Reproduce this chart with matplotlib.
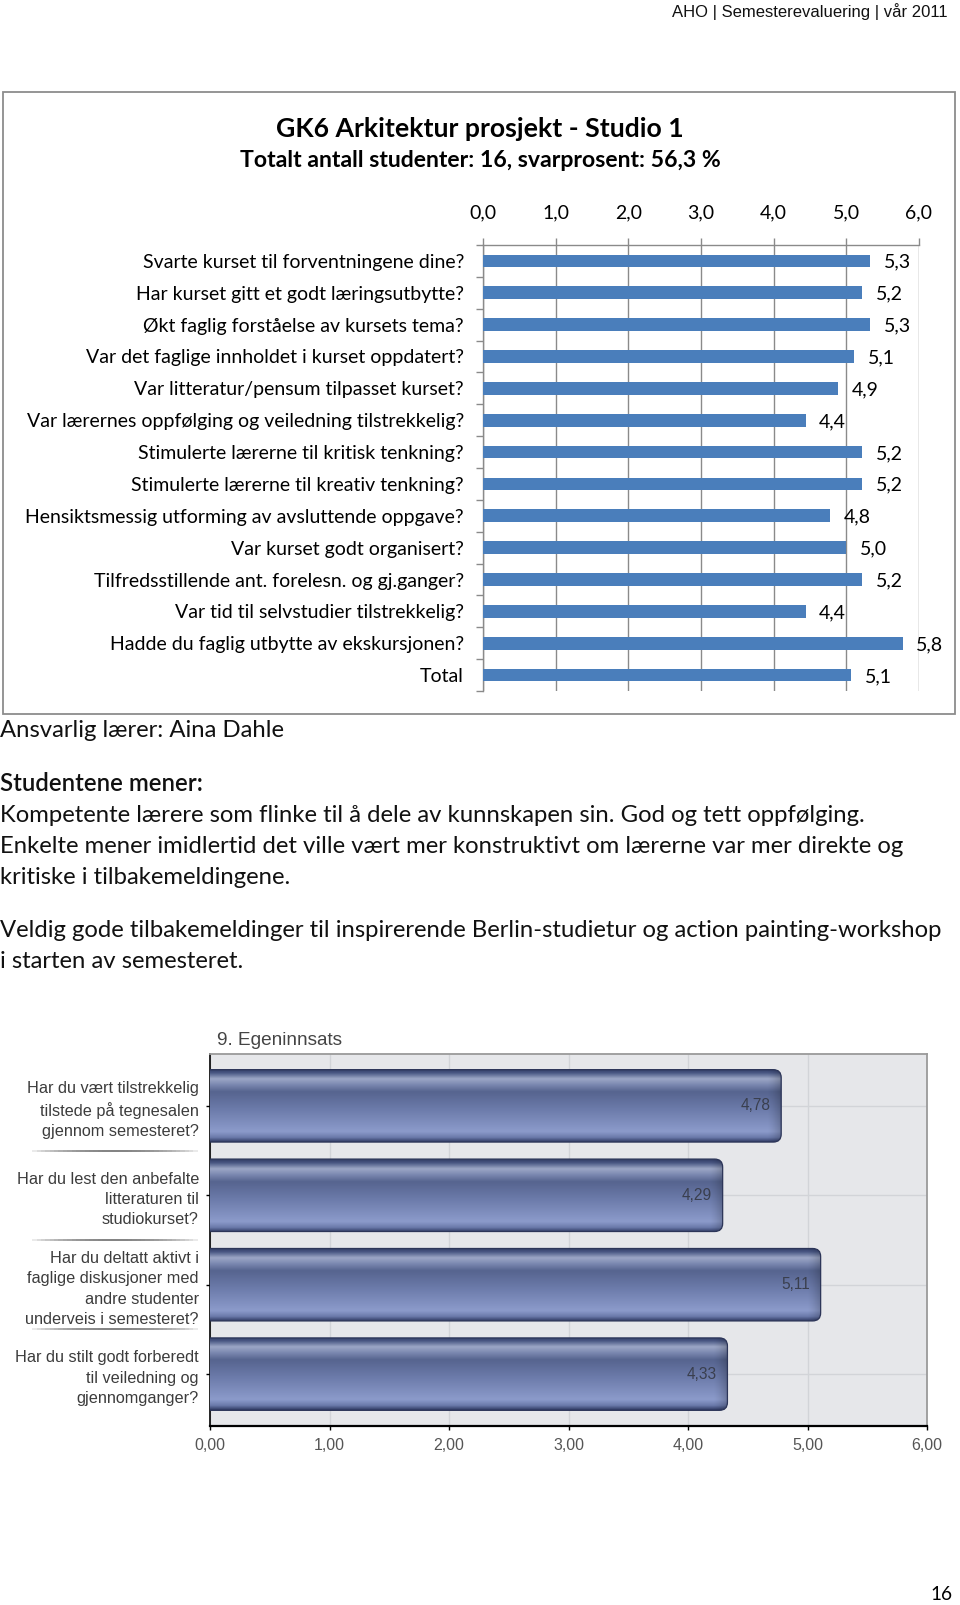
import matplotlib
matplotlib.use("Agg")
import matplotlib.pyplot as plt
import numpy as np
from matplotlib import font_manager, transforms
from matplotlib.patches import Rectangle, FancyBboxPatch
from matplotlib.colors import LinearSegmentedColormap
from matplotlib.collections import LineCollection

# ---------------- data ----------------
header_text = "AHO | Semesterevaluering | vår 2011"
chart_title = "GK6 Arkitektur prosjekt - Studio 1"
chart_subtitle = "Totalt antall studenter: 16, svarprosent: 56,3 %"

questions = [
    "Svarte kurset til forventningene dine?",
    "Har kurset gitt et godt læringsutbytte?",
    "Økt faglig forståelse av kursets tema?",
    "Var det faglige innholdet i kurset oppdatert?",
    "Var litteratur/pensum tilpasset kurset?",
    "Var lærernes oppfølging og veiledning tilstrekkelig?",
    "Stimulerte lærerne til kritisk tenkning?",
    "Stimulerte lærerne til kreativ tenkning?",
    "Hensiktsmessig utforming av avsluttende oppgave?",
    "Var kurset godt organisert?",
    "Tilfredsstillende ant. forelesn. og gj.ganger?",
    "Var tid til selvstudier tilstrekkelig?",
    "Hadde du faglig utbytte av ekskursjonen?",
    "Total",
]
scores = [5.33, 5.22, 5.33, 5.11, 4.89, 4.44, 5.22, 5.22, 4.78, 5.00, 5.22, 4.44, 5.78, 5.07]
score_ticks = [0, 1, 2, 3, 4, 5, 6]
score_tick_labels = ["0,0", "1,0", "2,0", "3,0", "4,0", "5,0", "6,0"]

teacher_line = "Ansvarlig lærer: Aina Dahle"
comments_heading = "Studentene mener:"
comment_lines = [
    "Kompetente lærere som flinke til å dele av kunnskapen sin. God og tett oppfølging.",
    "Enkelte mener imidlertid det ville vært mer konstruktivt om lærerne var mer direkte og",
    "kritiske i tilbakemeldingene.",
    "Veldig gode tilbakemeldinger til inspirerende Berlin-studietur og action painting-workshop",
    "i starten av semesteret.",
]

self_title = "9. Egeninnsats"
self_questions = [
    "Har du vært tilstrekkelig\ntilstede på tegnesalen\ngjennom semesteret?",
    "Har du lest den anbefalte\nlitteraturen til\nstudiokurset?",
    "Har du deltatt aktivt i\nfaglige diskusjoner med\nandre studenter\nunderveis i semesteret?",
    "Har du stilt godt forberedt\ntil veiledning og\ngjennomganger?",
]
self_scores = [4.78, 4.29, 5.11, 4.33]
self_ticks = [0, 1, 2, 3, 4, 5, 6]
self_tick_labels = ["0,00", "1,00", "2,00", "3,00", "4,00", "5,00", "6,00"]

page_number = "16"

# ---------------- setup ----------------
W, H = 960, 1605
fig = plt.figure(figsize=(W / 100, H / 100), dpi=100)
fig.patch.set_facecolor("white")


def fx(x):
    return x / W


def fy(y):
    return 1 - y / H


available = {f.name for f in font_manager.fontManager.ttflist}
NARROW = "Liberation Sans Narrow" if "Liberation Sans Narrow" in available else "Liberation Sans"
MAIN = "Lato" if "Lato" in available else "DejaVu Sans"
renderer = fig.canvas.get_renderer()


def fit(t, target):
    w = t.get_window_extent(renderer=renderer).width
    t.set_fontsize(t.get_fontsize() * target / w)
    return t.get_fontsize()


def measure_size(text, target, family, weight="normal"):
    t = fig.text(0, 0, text, fontfamily=family, fontsize=12, fontweight=weight)
    s = fit(t, target)
    t.remove()
    return s


def fmt1(v):
    return f"{v:.1f}".replace(".", ",")


def fmt2(v):
    return f"{v:.2f}".replace(".", ",")


# ---------------- header ----------------
t = fig.text(fx(948), fy(17), header_text, ha="right", va="baseline",
             fontfamily=NARROW, fontsize=11, color="#111111")
fit(t, 274)

# ---------------- top chart box ----------------
fig.add_artist(Rectangle((fx(3), fy(714)), (955 - 3) / W, (714 - 92) / H,
                         transform=fig.transFigure, fill=False,
                         edgecolor="#8c8c8c", lw=1.3))

t = fig.text(fx(480), fy(137), chart_title, ha="center", va="baseline",
             fontfamily=MAIN, fontweight="bold", fontsize=16, color="black")
fit(t, 408)
t = fig.text(fx(480), fy(167), chart_subtitle, ha="center", va="baseline",
             fontfamily=MAIN, fontweight="bold", fontsize=14, color="black")
fit(t, 485)

lab_fs = measure_size(questions[5], 436, MAIN)

ax1 = fig.add_axes([fx(483), fy(691), (919 - 483) / W, (691 - 245) / H])
ypos = np.arange(len(questions))
ax1.barh(ypos, scores, height=0.4, color="#4a7ebb", zorder=3)
ax1.set_xlim(0, 6)
ax1.set_ylim(len(questions) - 0.5, -0.5)
ax1.xaxis.tick_top()
ax1.set_xticks(score_ticks)
ax1.set_xticklabels(score_tick_labels, fontfamily=MAIN, fontsize=lab_fs)
ax1.tick_params(axis="x", length=5, color="#8a8a8a", pad=12, width=1)
ax1.grid(axis="x", color="#8a8a8a", lw=1)
ax1.set_axisbelow(True)
for s in ["right", "bottom"]:
    ax1.spines[s].set_visible(False)
for s in ["top", "left"]:
    ax1.spines[s].set_color("#8a8a8a")
    ax1.spines[s].set_linewidth(1)
ax1.set_yticks(ypos)
ax1.set_yticklabels(questions, fontfamily=MAIN, fontsize=lab_fs)
ax1.set_yticks(np.arange(-0.5, len(questions), 1), minor=True)
ax1.tick_params(axis="y", which="major", length=0, pad=13.7)
ax1.tick_params(axis="y", which="minor", length=5, color="#8a8a8a", width=1)
for y, v in zip(ypos, scores):
    ax1.annotate(fmt1(v), xy=(v, y), xytext=(9.5, -1), textcoords="offset points",
                 va="center", ha="left", fontfamily=MAIN, fontsize=lab_fs, zorder=4)

# ---------------- comments ----------------
com_fs = measure_size(comment_lines[3], 940, MAIN)
fig.text(fx(0), fy(737), teacher_line, ha="left", va="baseline",
         fontfamily=MAIN, fontsize=com_fs, color="#111111")
fig.text(fx(0), fy(791), comments_heading, ha="left", va="baseline",
         fontfamily=MAIN, fontsize=com_fs, fontweight="semibold", color="#111111")
for yb, line in zip([822, 853, 884, 937, 968], comment_lines):
    fig.text(fx(0), fy(yb), line, ha="left", va="baseline",
             fontfamily=MAIN, fontsize=com_fs, color="#111111")

# ---------------- bottom chart ----------------
t = fig.text(fx(217), fy(1045), self_title, ha="left", va="baseline",
             fontfamily=NARROW, fontsize=12, color="#444444")
fit(t, 126)

ax2_box = [fx(210), fy(1426), (927 - 210) / W, (1426 - 1054) / H]
ax2 = fig.add_axes(ax2_box)
ax2.set_facecolor("#e6e7ea")
n2 = len(self_questions)
y2 = np.arange(n2)
bars = ax2.barh(y2, self_scores, height=0.81, color="none", zorder=3)

xlim2 = (0, 6)
ylim2 = (n2 - 1 + 0.58, -0.58)

ax_w_px = 927 - 210
ax_h_px = 1426 - 1054
x_per_px = (xlim2[1] - xlim2[0]) / ax_w_px
y_per_px = (ylim2[0] - ylim2[1]) / ax_h_px

stops = [
    (0.00, "#323d66"),
    (0.05, "#4a5884"),
    (0.13, "#9ca7c6"),
    (0.21, "#7c89b1"),
    (0.31, "#56648f"),
    (0.55, "#6c7baa"),
    (0.86, "#8c9bcb"),
    (0.94, "#6b7aab"),
    (1.00, "#323d66"),
]
cmap = LinearSegmentedColormap.from_list("barg", stops)
grad = cmap(np.linspace(0, 1, 200))[:, None, :]

shade = np.zeros((1, 60, 4))
shade[0, :, 3] = np.linspace(0, 0.35, 60) ** 1.5

r_px = 8
for bar in bars:
    x0, w = bar.get_x(), bar.get_width()
    yb, h = bar.get_y(), bar.get_height()
    r = r_px * x_per_px
    patch = FancyBboxPatch((x0 - r, yb), w + r, h,
                           boxstyle=f"round,pad=0,rounding_size={r}",
                           mutation_aspect=y_per_px / x_per_px,
                           transform=ax2.transData, facecolor="none",
                           edgecolor="#2c3558", lw=0.9, zorder=5)
    ax2.add_patch(patch)
    im = ax2.imshow(grad, extent=(x0 - r, x0 + w, yb + h, yb), aspect="auto",
                    origin="upper", interpolation="bilinear", zorder=4)
    im.set_clip_path(patch)
    im2 = ax2.imshow(shade, extent=(x0 + w - 14 * x_per_px, x0 + w, yb + h, yb),
                     aspect="auto", origin="upper", interpolation="bilinear", zorder=4.5)
    im2.set_clip_path(patch)

ax2.set_xlim(*xlim2)
ax2.set_ylim(*ylim2)

val_fs = measure_size("4,78", 30, NARROW)
for y, v in zip(y2, self_scores):
    ax2.annotate(fmt2(v), xy=(v, y), xytext=(-7.5, 0), textcoords="offset points",
                 ha="right", va="center", fontfamily=NARROW, fontsize=val_fs,
                 color="#3a3f4e", zorder=6)

ax2.set_xticks(self_ticks)
tick_fs = measure_size("0,00", 31, NARROW)
ax2.set_xticklabels(self_tick_labels, fontfamily=NARROW, fontsize=tick_fs, color="#555555")
ax2.set_yticks(y2)
cat_fs = measure_size("Har du stilt godt forberedt", 184, NARROW)
ax2.set_yticklabels(self_questions, fontfamily=NARROW, fontsize=cat_fs,
                    color="#3c3c3c", linespacing=1.45)
ax2.tick_params(axis="x", length=3, width=1, color="black", pad=5.5)
ax2.tick_params(axis="y", length=3, width=1, color="black", pad=5)
ax2.grid(True, color="#d2d4d8", lw=1)
ax2.set_axisbelow(True)
ax2.spines["left"].set_color("black")
ax2.spines["left"].set_linewidth(1.2)
ax2.spines["bottom"].set_color("black")
ax2.spines["bottom"].set_linewidth(1.6)
for s in ["top", "right"]:
    ax2.spines[s].set_color("#9a9a9a")
    ax2.spines[s].set_linewidth(1.3)

# separators between category labels
blend = transforms.blended_transform_factory(fig.transFigure, ax2.transData)
xs = np.linspace(fx(28), fx(202), 41)
for ysep in np.arange(0.5, n2 - 1, 1.0):
    segs = [[(xs[i], ysep), (xs[i + 1], ysep)] for i in range(len(xs) - 1)]
    tt = np.linspace(0, 1, len(segs))
    alphas = 0.9 * np.sin(np.pi * tt) ** 0.7
    cols = [(0.3, 0.3, 0.3, a) for a in alphas]
    lc = LineCollection(segs, colors=cols, linewidths=1.1, transform=blend, clip_on=False)
    fig.add_artist(lc)

# ---------------- page number ----------------
t = fig.text(fx(942), fy(1600), page_number, ha="center", va="baseline",
             fontfamily=MAIN, fontsize=12, color="black")
fit(t, 22)

fig.savefig("out.png", dpi=100)
